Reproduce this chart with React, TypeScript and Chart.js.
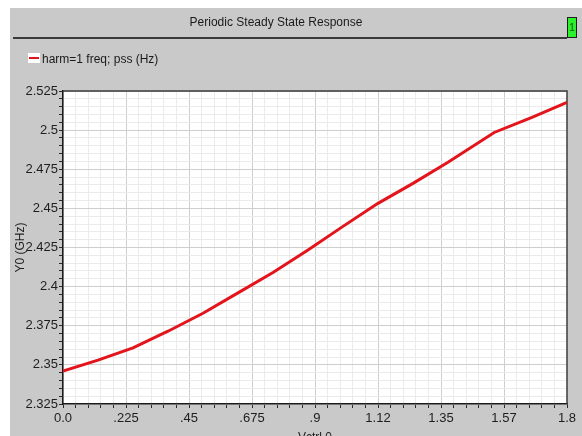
import { useEffect, useRef } from "react";
import { Chart, registerables } from "chart.js";

Chart.register(...registerables);

// ---- data ----
const vctrl = [0, 0.125, 0.25, 0.375, 0.5, 0.625, 0.75, 0.875, 1.0, 1.125, 1.25, 1.375, 1.54, 1.675, 1.8];
const freqGHz = [2.346, 2.353, 2.3608, 2.3715, 2.383, 2.396, 2.409, 2.4234, 2.4385, 2.4532, 2.466, 2.4795, 2.4985, 2.5082, 2.5177];

const xTickValues = [0, 0.225, 0.45, 0.675, 0.9, 1.125, 1.35, 1.575, 1.8];
const xTickLabels = ["0.0", ".225", ".45", ".675", ".9", "1.12", "1.35", "1.57", "1.8"];
const yTickValues = [2.325, 2.35, 2.375, 2.4, 2.425, 2.45, 2.475, 2.5, 2.525];
const yTickLabels = ["2.325", "2.35", "2.375", "2.4", "2.425", "2.45", "2.475", "2.5", "2.525"];
const MINOR_DIV = 5;

const titleText = "Periodic Steady State Response";
const legendText = "harm=1 freq; pss (Hz)";
const yTitle = "Y0 (GHz)";
const xTitle = "Vctrl 0";

const FONT = "'Liberation Sans', Arial, sans-serif";

function buildTicks(majors: number[], labels: string[]) {
  const vals: number[] = [];
  const labs: string[] = [];
  for (let i = 0; i < majors.length; i++) {
    vals.push(majors[i]);
    labs.push(labels[i]);
    if (i < majors.length - 1) {
      for (let k = 1; k < MINOR_DIV; k++) {
        vals.push(majors[i] + ((majors[i + 1] - majors[i]) * k) / MINOR_DIV);
        labs.push("");
      }
    }
  }
  return { vals, labs };
}

const xT = buildTicks(xTickValues, xTickLabels);
const yT = buildTicks(yTickValues, yTickLabels);

const framePlugin = {
  id: "frame",
  beforeDatasetsDraw(chart: any) {
    const { ctx, chartArea } = chart;
    ctx.save();
    ctx.strokeStyle = "#3c3c3c";
    ctx.lineWidth = 1.5;
    ctx.beginPath();
    ctx.moveTo(chartArea.left, chartArea.top);
    ctx.lineTo(chartArea.right, chartArea.top);
    ctx.lineTo(chartArea.right, chartArea.bottom);
    ctx.stroke();
    ctx.restore();
  },
};

const bgPlugin = {
  id: "plotbg",
  beforeDraw(chart: any) {
    const { ctx, chartArea } = chart;
    ctx.save();
    ctx.fillStyle = "#ffffff";
    ctx.fillRect(chartArea.left, chartArea.top, chartArea.right - chartArea.left, chartArea.bottom - chartArea.top);
    ctx.restore();
  },
};

export default function App() {
  const ref = useRef<HTMLCanvasElement | null>(null);

  useEffect(() => {
    if (!ref.current) return;
    const gridColor = (c: any) => (c.index % MINOR_DIV === 0 ? "#cfcfcf" : "#ebebeb");
    const chart = new Chart(ref.current, {
      type: "line",
      data: {
        datasets: [
          {
            label: legendText,
            data: vctrl.map((x, i) => ({ x, y: freqGHz[i] })),
            borderColor: "#e3141b",
            borderWidth: 3,
            pointRadius: 0,
            tension: 0,
            fill: false,
          },
        ],
      },
      options: {
        responsive: false,
        animation: false,
        layout: { padding: { top: 83, right: 15, left: 0, bottom: 0 } },
        plugins: {
          legend: { display: false },
          tooltip: { enabled: false },
        },
        scales: {
          x: {
            type: "linear",
            min: 0,
            max: 1.8,
            afterBuildTicks: (s: any) => {
              s.ticks = xT.vals.map((v) => ({ value: v }));
            },
            afterFit: (s: any) => {
              s.height = 42;
            },
            ticks: {
              autoSkip: false,
              maxRotation: 0,
              padding: 3,
              color: "#1e1e1e",
              font: { family: FONT, size: 13 },
              callback: (_v: any, i: number) => xT.labs[i],
            },
            grid: {
              color: gridColor,
              lineWidth: 1,
              tickLength: 4,
              tickColor: "#2a2a2a",
            },
            border: { display: true, color: "#1a1a1a", width: 1.5 },
            title: {
              display: true,
              text: xTitle,
              color: "#1e1e1e",
              font: { family: FONT, size: 12 },
              padding: { top: 0, bottom: 1 },
            },
          },
          y: {
            type: "linear",
            min: 2.325,
            max: 2.525,
            afterBuildTicks: (s: any) => {
              s.ticks = yT.vals.map((v) => ({ value: v }));
            },
            afterFit: (s: any) => {
              s.width = 53;
            },
            ticks: {
              autoSkip: false,
              padding: 1,
              color: "#1e1e1e",
              font: { family: FONT, size: 13 },
              callback: (_v: any, i: number) => yT.labs[i],
            },
            grid: {
              color: gridColor,
              lineWidth: 1,
              tickLength: 4,
              tickColor: "#2a2a2a",
            },
            border: { display: true, color: "#1a1a1a", width: 1.5 },
            title: {
              display: true,
              text: yTitle,
              color: "#1e1e1e",
              font: { family: FONT, size: 12 },
              padding: 3,
            },
          },
        },
      },
      plugins: [bgPlugin, framePlugin],
    });
    return () => chart.destroy();
  }, []);

  return (
    <div
      style={{
        position: "fixed",
        left: 10,
        top: 8,
        right: 0,
        height: 440,
        background: "#c9c9c9",
        overflow: "hidden",
        fontFamily: FONT,
      }}
    >
      <canvas ref={ref} width={572} height={438} style={{ position: "absolute", left: 0, top: 0 }} />
      <div
        style={{
          position: "absolute",
          left: 0,
          width: 532,
          top: 6,
          textAlign: "center",
          fontSize: 12,
          color: "#1a1a1a",
          lineHeight: "16px",
        }}
      >
        {titleText}
      </div>
      <div style={{ position: "absolute", left: 3, width: 554, top: 29, height: 2, background: "#3a3a3a" }} />
      <div
        style={{
          position: "absolute",
          left: 557,
          top: 9,
          width: 8,
          height: 19,
          background: "#2cf02c",
          border: "1px solid #1e1e1e",
          fontSize: 10,
          lineHeight: "19px",
          textAlign: "center",
          color: "#1a5a1a",
        }}
      >
        1
      </div>
      <div style={{ position: "absolute", left: 18, top: 45, width: 12, height: 10, background: "#ffffff" }} />
      <div style={{ position: "absolute", left: 19, top: 49, width: 10, height: 2, background: "#e3141b" }} />
      <div
        style={{
          position: "absolute",
          left: 32,
          top: 43,
          fontSize: 12,
          lineHeight: "16px",
          color: "#1a1a1a",
          whiteSpace: "nowrap",
        }}
      >
        {legendText}
      </div>
    </div>
  );
}
